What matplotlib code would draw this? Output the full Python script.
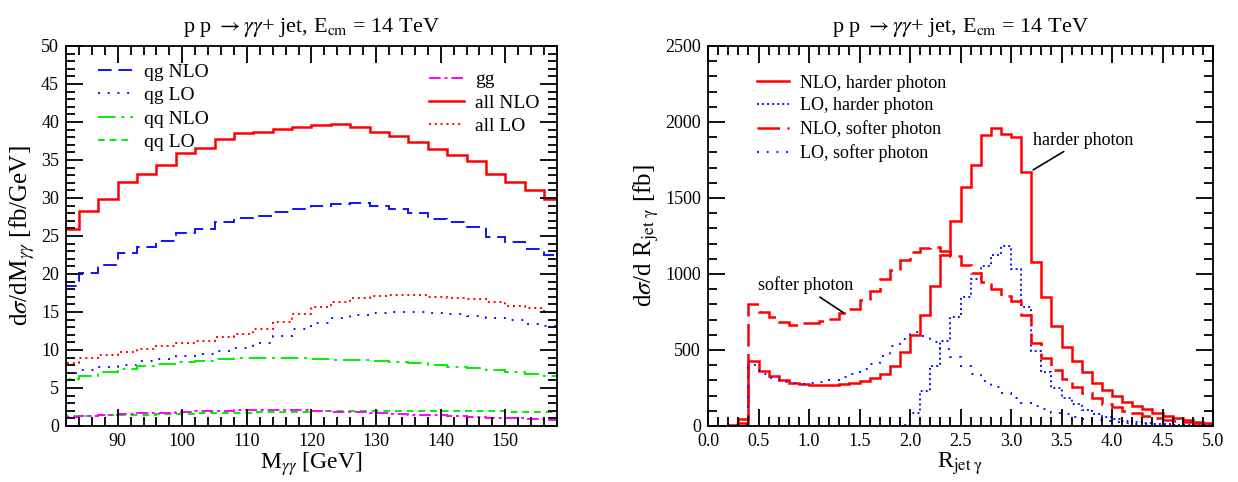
import numpy as np
import matplotlib
matplotlib.use("Agg")
import matplotlib.pyplot as plt
from matplotlib.ticker import MultipleLocator

plt.rcParams['font.family'] = ['Liberation Serif', 'DejaVu Serif']
plt.rcParams['mathtext.fontset'] = 'stix'

# ---------------- Left panel data: d sigma / d M_gamma gamma ----------------
m_edges = np.arange(81, 160, 3)  # 26 bins of 3 GeV
qg_nlo = [18.4, 20.1, 21.2, 22.8, 23.5, 24.3, 25.4, 25.9, 26.8, 27.4, 27.6, 28.2, 28.5,
          29.0, 29.25, 29.3, 28.9, 28.5, 28.0, 27.2, 26.9, 26.2, 24.9, 24.2, 23.3, 22.5]
qg_lo = [7.0, 7.4, 7.7, 8.0, 8.5, 8.8, 9.2, 9.5, 9.9, 10.2, 10.9, 11.8, 12.7,
         13.5, 14.2, 14.6, 14.9, 15.0, 15.0, 14.9, 14.7, 14.5, 14.2, 13.9, 13.4, 13.1]
qq_nlo = [6.2, 6.6, 7.05, 7.45, 7.9, 8.15, 8.45, 8.6, 8.8, 8.9, 8.9, 8.9, 8.9,
          8.8, 8.7, 8.65, 8.5, 8.4, 8.25, 8.0, 7.8, 7.6, 7.4, 7.1, 6.9, 6.6]
qq_lo = [1.3, 1.35, 1.4, 1.45, 1.5, 1.55, 1.6, 1.65, 1.7, 1.75, 1.8, 1.85, 1.9,
         1.95, 1.95, 2.0, 2.0, 2.0, 2.0, 2.0, 2.0, 1.95, 1.95, 1.9, 1.9, 1.9]
gg = [1.25, 1.35, 1.45, 1.55, 1.65, 1.75, 1.85, 1.95, 2.0, 2.05, 2.1, 2.1, 2.05,
      2.0, 1.9, 1.8, 1.7, 1.6, 1.5, 1.4, 1.3, 1.2, 1.1, 1.0, 0.9, 0.8]
all_nlo = [25.9, 28.3, 29.9, 32.1, 33.2, 34.4, 35.9, 36.6, 37.8, 38.55, 38.7, 39.1, 39.3,
           39.55, 39.7, 39.4, 38.7, 38.1, 37.4, 36.45, 35.6, 34.9, 33.2, 32.1, 31.05, 29.9]
all_lo = [8.3, 8.9, 9.3, 9.7, 10.1, 10.5, 10.9, 11.2, 11.7, 12.15, 12.8, 13.7, 14.7,
          15.7, 16.3, 16.8, 17.1, 17.2, 17.2, 17.0, 16.9, 16.7, 16.3, 15.8, 15.5, 15.0]

# ---------------- Right panel data: d sigma / d R_jet gamma ----------------
r_edges = np.linspace(0.0, 5.0, 51)  # 50 bins of 0.1
nlo_harder = [0, 2, 8, 20,
              425, 363, 330, 304, 286, 275, 273, 271, 271, 277,
              286, 299, 314, 343, 396, 484, 601, 733, 923, 1125,
              1351, 1575, 1717, 1914, 1958, 1921, 1899, 1673, 1081, 851,
              660, 518, 430, 353, 285, 237, 197, 160, 134, 110,
              88, 68, 50, 39, 28, 18]
lo_harder = [0] * 19 + [8,
             88, 231, 392, 561, 719, 851, 964, 1052, 1126, 1181,
             1034, 781, 491, 352, 253, 187, 143, 103, 77, 59,
             44, 33, 26, 20, 15, 11, 8, 6, 5, 4]
nlo_softer = [0, 3, 15, 45,
              805, 748, 717, 684, 667, 676, 678, 693, 704, 746,
              770, 832, 891, 964, 1025, 1089, 1144, 1168, 1180, 1154,
              1118, 1057, 1009, 945, 899, 855, 822, 730, 544, 445,
              368, 307, 259, 219, 182, 145, 127, 101, 83, 68,
              55, 39, 33, 24, 18, 13]
lo_softer = [0, 0, 2, 5,
             402, 343, 314, 292, 281, 277, 281, 292, 303, 321,
             341, 374, 411, 462, 528, 572, 616, 594, 555, 505,
             455, 395, 340, 295, 255, 215, 185, 154, 132, 110,
             88, 77, 59, 47, 40, 33, 26, 20, 15, 12,
             9, 7, 5, 4, 3, 2]

title = r"p p ${\rightarrow}\gamma\gamma$+ jet, E$_{\rm cm}$ = 14 TeV"

RED = '#ff0000'
BLUE = '#1010ff'
GREEN = '#00f000'
MAG = '#ff00ff'

fig = plt.figure(figsize=(12.38, 4.82), dpi=100)
W, H = 1238, 482
axL = fig.add_axes([66 / W, (H - 426) / H, (557 - 66) / W, 380 / H])
axR = fig.add_axes([708 / W, (H - 426) / H, (1213 - 708) / W, 380 / H])

def style_axes(ax):
    ax.tick_params(which='both', direction='in', top=True, right=True, labelsize=13,
                   width=1.3, pad=5)
    ax.tick_params(which='major', length=12)
    ax.tick_params(which='minor', length=6.5)
    for s in ax.spines.values():
        s.set_linewidth(1.3)

# ---- left ----
h1 = axL.stairs(qg_nlo, m_edges, color=BLUE, lw=1.4, ls=(0, (7, 3.5)), label='qg NLO')
h2 = axL.stairs(qg_lo, m_edges, color=BLUE, lw=1.4, ls=(0, (1, 4)), label='qg LO')
h3 = axL.stairs(qq_nlo, m_edges, color=GREEN, lw=1.4, ls=(0, (9, 3, 1.5, 3)), label='qq NLO')
h4 = axL.stairs(qq_lo, m_edges, color=GREEN, lw=1.4, ls=(0, (3.5, 2.5)), label='qq LO')
h5 = axL.stairs(gg, m_edges, color=MAG, lw=1.4, ls=(0, (6, 2, 1.5, 2)), label='gg')
h6 = axL.stairs(all_nlo, m_edges, color=RED, lw=1.8, ls='-', label='all NLO')
h7 = axL.stairs(all_lo, m_edges, color=RED, lw=1.4, ls=(0, (1, 2)), label='all LO')
axL.set_xlim(82, 158)
axL.set_ylim(0, 50)
axL.xaxis.set_major_locator(MultipleLocator(10))
axL.xaxis.set_minor_locator(MultipleLocator(2))
axL.yaxis.set_major_locator(MultipleLocator(5))
axL.yaxis.set_minor_locator(MultipleLocator(1))
style_axes(axL)
axL.set_title(title, fontsize=16, pad=10)
axL.set_xlabel(r"M$_{\gamma\gamma}$ [GeV]", fontsize=17, labelpad=0)
axL.set_ylabel(r"d$\sigma$/dM$_{\gamma\gamma}$ [fb/GeV]", fontsize=18, labelpad=3)

legkw = dict(frameon=False, fontsize=14, handlelength=1.8, handletextpad=0.55,
             labelspacing=0.3, borderaxespad=0.0, borderpad=0.0)
leg1 = axL.legend(handles=[h1, h2, h3, h4], loc='upper left',
                  bbox_to_anchor=(0.065, 0.955), **legkw)
axL.add_artist(leg1)
axL.legend(handles=[h5, h6, h7], loc='upper left',
           bbox_to_anchor=(0.74, 0.935), **legkw)

# ---- right ----
g1 = axR.stairs(nlo_harder, r_edges, color=RED, lw=1.8, ls='-', label='NLO, harder photon')
g2 = axR.stairs(lo_harder, r_edges, color=BLUE, lw=1.4, ls=(0, (1, 1.6)), label='LO, harder photon')
g3 = axR.stairs(nlo_softer, r_edges, color=RED, lw=1.8, ls=(0, (9, 3)), label='NLO, softer photon')
g4 = axR.stairs(lo_softer, r_edges, color=BLUE, lw=1.4, ls=(0, (1, 4)), label='LO, softer photon')
axR.set_xlim(0, 5)
axR.set_ylim(0, 2500)
axR.xaxis.set_major_locator(MultipleLocator(0.5))
axR.xaxis.set_minor_locator(MultipleLocator(0.1))
axR.xaxis.set_major_formatter(matplotlib.ticker.FormatStrFormatter('%.1f'))
axR.yaxis.set_major_locator(MultipleLocator(500))
axR.yaxis.set_minor_locator(MultipleLocator(100))
style_axes(axR)
axR.set_title(title, fontsize=16, pad=10)
axR.set_xlabel(r"R$_{\rm jet\ \gamma}$", fontsize=17, labelpad=0)
axR.set_ylabel(r"d$\sigma$/d R$_{\rm jet\ \gamma}$ [fb]", fontsize=18, labelpad=3)
axR.legend(handles=[g1, g2, g3, g4], loc='upper left',
           bbox_to_anchor=(0.098, 0.925),
           **dict(legkw, fontsize=13, handlelength=1.75, handletextpad=0.6, labelspacing=0.33))

axR.annotate("softer photon", xy=(1.34, 746), xytext=(0.5, 925), fontsize=13,
             va='center', ha='left',
             arrowprops=dict(arrowstyle='-', color='black', lw=1.2,
                             shrinkA=0, shrinkB=0, relpos=(0.6, 0.0)))
axR.annotate("harder photon", xy=(3.22, 1685), xytext=(3.22, 1880), fontsize=13,
             va='center', ha='left',
             arrowprops=dict(arrowstyle='-', color='black', lw=1.2,
                             shrinkA=0, shrinkB=0, relpos=(0.35, 0.0)))

fig.savefig("out.png", dpi=100)
